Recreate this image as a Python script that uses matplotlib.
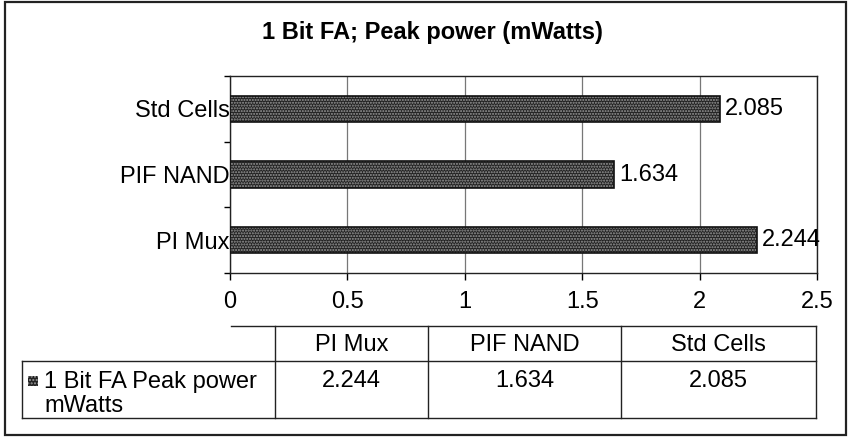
import matplotlib.pyplot as plt
from matplotlib.lines import Line2D
from matplotlib.patches import Rectangle

plt.rcParams['font.family'] = ['Liberation Sans', 'DejaVu Sans']

categories = ["PI Mux", "PIF NAND", "Std Cells"]
peak_power = [2.244, 1.634, 2.085]
series_name = "1 Bit FA Peak power\nmWatts"
title = "1 Bit FA; Peak power (mWatts)"
xticks = [0, 0.5, 1, 1.5, 2, 2.5]

W, H = 852, 440
fig = plt.figure(figsize=(W / 100, H / 100), dpi=100)


def fx(px):
    return px / W


def fy(py):
    return 1 - py / H


# outer frame
fig.add_artist(Rectangle((fx(5), fy(435)), fx(846) - fx(5), fy(2) - fy(435),
                         transform=fig.transFigure, fill=False, ec='#222', lw=1.6))

ax = fig.add_axes([fx(230), fy(273), fx(817) - fx(230), fy(76) - fy(273)])
ypos = range(len(categories))
ax.barh(ypos, peak_power, height=0.4, color='#222', hatch='......',
        edgecolor='#9a9a9a', lw=0, zorder=3)
ax.barh(ypos, peak_power, height=0.4, fill=False, edgecolor='#111', lw=1.2, zorder=4)
for y, v in zip(ypos, peak_power):
    ax.text(v + 0.022, y, f"{v:.3f}", va='center', ha='left', fontsize=17, zorder=5)

ax.set_xlim(0, 2.5)
ax.set_ylim(-0.5, len(categories) - 0.5)
ax.set_xticks(xticks)
ax.set_xticklabels([f"{t:g}" for t in xticks], fontsize=17)
ax.set_yticks(list(ypos))
ax.set_yticklabels(categories, fontsize=17, va='center_baseline')
ax.set_yticks([i - 0.5 for i in range(len(categories) + 1)], minor=True)
ax.tick_params(axis='y', which='major', length=0, pad=0)
ax.tick_params(axis='y', which='minor', length=4, width=1, direction='out')
ax.tick_params(axis='x', length=5, width=1, direction='out', pad=8)
ax.grid(axis='x', color='#777', lw=0.9, zorder=0)
for s in ax.spines.values():
    s.set_color('#222')
    s.set_linewidth(1)

fig.text(fx(432), fy(33), title, ha='center', va='center', fontsize=17, fontweight='bold')

# data table below the axis
col_edges = [275, 428, 621, 816]
top, mid, bot = 326, 361, 418


def hline(y, x0, x1):
    fig.add_artist(Line2D([fx(x0), fx(x1)], [fy(y), fy(y)], transform=fig.transFigure,
                          color='#222', lw=1))


def vline(x, y0, y1):
    fig.add_artist(Line2D([fx(x), fx(x)], [fy(y0), fy(y1)], transform=fig.transFigure,
                          color='#222', lw=1))


hline(top, 231, col_edges[-1])
hline(mid, 22, col_edges[-1])
hline(bot, 22, col_edges[-1])
vline(22, mid, bot)
for x in col_edges:
    vline(x, top, bot)

for i, (cat, v) in enumerate(zip(categories, peak_power)):
    cx = (col_edges[i] + col_edges[i + 1]) / 2
    fig.text(fx(cx), fy(345), cat, ha='center', va='center', fontsize=17)
    fig.text(fx(cx), fy(381), f"{v:.3f}", ha='center', va='center', fontsize=17)

fig.add_artist(Rectangle((fx(28), fy(386)), fx(38) - fx(28), fy(376) - fy(386),
                         transform=fig.transFigure, fc='#222', hatch='.....',
                         ec='#9a9a9a', lw=0))
fig.text(fx(44), fy(371), series_name, ha='left', va='top', fontsize=17, linespacing=1.12)

fig.savefig("out.png", dpi=100)
